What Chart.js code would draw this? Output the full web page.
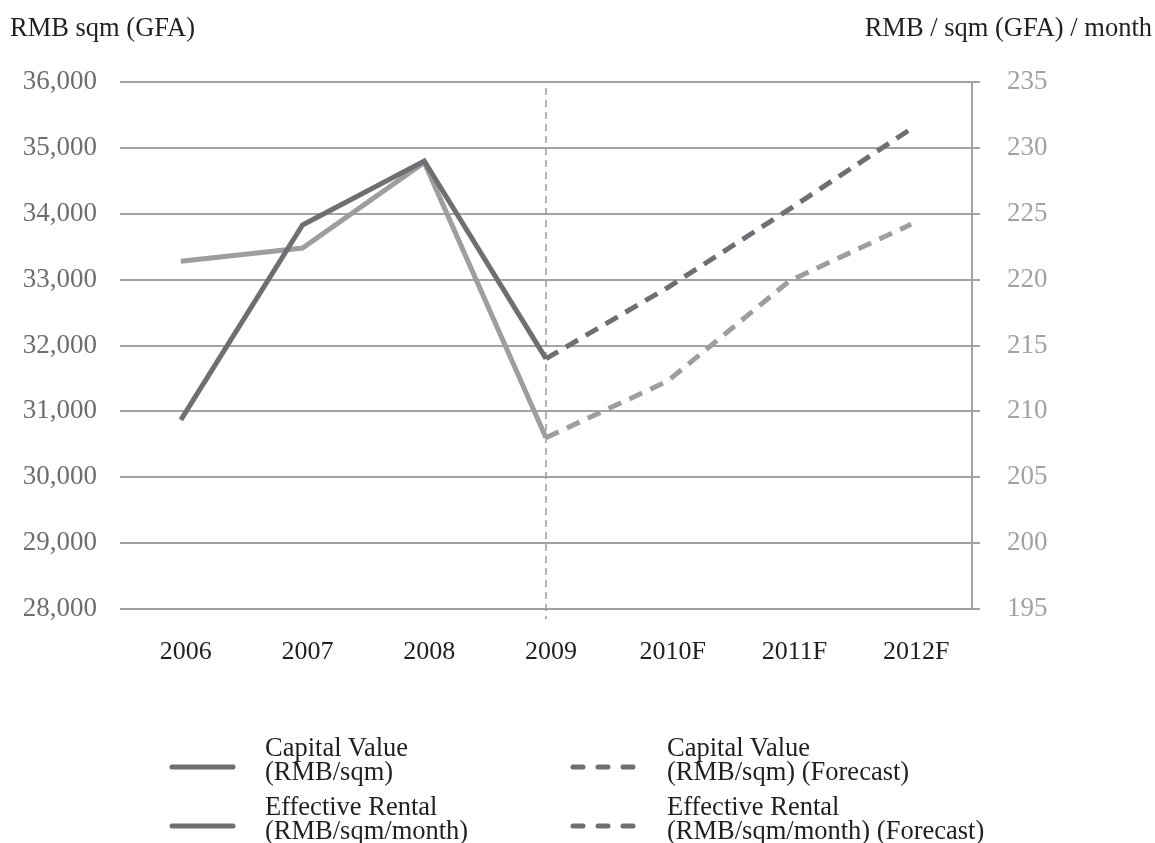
<!DOCTYPE html>
<html>
<head>
<meta charset="utf-8">
<script src="https://cdn.jsdelivr.net/npm/chart.js@4.4.1/dist/chart.umd.min.js"></script>
<style>
  body { margin: 0; background: #fff; }
  #wrap { position: relative; width: 1155px; height: 843px; overflow: hidden; }
  canvas { position: absolute; left: 0; top: 0; }
  .txt { position: absolute; font-family: "Liberation Serif", "Times New Roman", serif; font-size: 26.5px; line-height: 26px; color: #231f20; white-space: nowrap; }
  .leg .txt { font-size: 26.5px; line-height: 24px; }
  .leg svg { position: absolute; }
</style>
</head>
<body>
<div id="wrap">
  <canvas id="chart" width="1155" height="843"></canvas>
  <div class="txt" style="left:10px; top:14px;">RMB sqm (GFA)</div>
  <div class="txt" style="right:3px; top:14px;">RMB / sqm (GFA) / month</div>

  <div class="leg">
    <svg style="left:166px; top:759px;" width="75" height="16"><line x1="6" y1="8" x2="67" y2="8" stroke="#6e6f72" stroke-width="5" stroke-linecap="round"/></svg>
    <div class="txt" style="left:265px; top:735px;">Capital Value<br>(RMB/sqm)</div>
    <svg style="left:566px; top:759px;" width="80" height="16"><line x1="7" y1="8" x2="71" y2="8" stroke="#6e6f72" stroke-width="5" stroke-linecap="round" stroke-dasharray="10 15"/></svg>
    <div class="txt" style="left:667px; top:735px;">Capital Value<br>(RMB/sqm) (Forecast)</div>

    <svg style="left:166px; top:818px;" width="75" height="16"><line x1="6" y1="8" x2="67" y2="8" stroke="#6e6f72" stroke-width="5" stroke-linecap="round"/></svg>
    <div class="txt" style="left:265px; top:794px;">Effective Rental<br>(RMB/sqm/month)</div>
    <svg style="left:566px; top:818px;" width="80" height="16"><line x1="7" y1="8" x2="71" y2="8" stroke="#6e6f72" stroke-width="5" stroke-linecap="round" stroke-dasharray="10 15"/></svg>
    <div class="txt" style="left:667px; top:794px;">Effective Rental<br>(RMB/sqm/month) (Forecast)</div>
  </div>
</div>

<script>
const years = ["2006", "2007", "2008", "2009", "2010F", "2011F", "2012F"];

// RMB per sqm (left axis)
const capitalValue = [30870, 33830, 34800, 31800, null, null, null];
const capitalValueForecast = [null, null, null, 31800, 32880, 34070, 35290];

// RMB per sqm per month (right axis)
const effectiveRental = [221.4, 222.4, 228.9, 208.0, null, null, null];
const effectiveRentalForecast = [null, null, null, 208.0, 212.3, 219.9, 224.2];

const leftTicks = { min: 28000, max: 36000, step: 1000 };
const rightTicks = { min: 195, max: 235, step: 5 };

const dark = "#6e6f72";
const light = "#9d9ea0";
const gridGrey = "#a3a3a6";
const serif = "'Liberation Serif', 'Times New Roman', serif";

// dashed line marking where the forecast starts
const forecastMarker = {
  id: "forecastMarker",
  beforeDatasetsDraw(chart) {
    const ctx = chart.ctx;
    const x = chart.scales.x.getPixelForValue(3);
    const area = chart.chartArea;
    ctx.save();
    ctx.strokeStyle = "#9a9a9d";
    ctx.lineWidth = 1.5;
    ctx.setLineDash([7, 5]);
    ctx.beginPath();
    ctx.moveTo(x, area.top + 6);
    ctx.lineTo(x, area.bottom + 10);
    ctx.stroke();
    ctx.restore();
  }
};

const data = {
  labels: years,
  datasets: [
    {
      label: "Capital Value (RMB/sqm)",
      data: capitalValue,
      yAxisID: "y",
      borderColor: dark,
      borderWidth: 5
    },
    {
      label: "Capital Value (RMB/sqm) (Forecast)",
      data: capitalValueForecast,
      yAxisID: "y",
      borderColor: dark,
      borderWidth: 5,
      borderDash: [14, 9]
    },
    {
      label: "Effective Rental (RMB/sqm/month)",
      data: effectiveRental,
      yAxisID: "y1",
      borderColor: light,
      borderWidth: 5
    },
    {
      label: "Effective Rental (RMB/sqm/month) (Forecast)",
      data: effectiveRentalForecast,
      yAxisID: "y1",
      borderColor: light,
      borderWidth: 5,
      borderDash: [14, 9]
    }
  ]
};

const config = {
  type: "line",
  data: data,
  options: {
    responsive: false,
    animation: false,
    layout: { padding: { top: 82, bottom: 0, left: 0, right: 0 } },
    elements: {
      point: { radius: 0 },
      line: { tension: 0, borderJoinStyle: "miter", borderCapStyle: "butt", spanGaps: false }
    },
    plugins: {
      legend: { display: false },
      tooltip: { enabled: false }
    },
    scales: {
      x: {
        offset: true,
        grid: { display: false, drawTicks: false },
        border: { display: false },
        ticks: {
          color: "#231f20",
          font: { family: serif, size: 26 },
          padding: 28,
          labelOffset: 5,
          maxRotation: 0
        },
        afterFit(scale) { scale.height = 234; }
      },
      y: {
        position: "left",
        min: leftTicks.min,
        max: leftTicks.max,
        grid: { color: gridGrey, lineWidth: 2, drawTicks: false },
        border: { display: false },
        ticks: {
          stepSize: leftTicks.step,
          color: "#6d6e71",
          font: { family: serif, size: 27 },
          padding: 23,
          callback: (v) => v.toLocaleString("en-US")
        },
        afterFit(scale) { scale.width = 120; }
      },
      y1: {
        position: "right",
        min: rightTicks.min,
        max: rightTicks.max,
        grid: { drawOnChartArea: false, drawTicks: true, tickLength: 8, color: gridGrey, lineWidth: 2 },
        border: { display: true, color: gridGrey, width: 2 },
        ticks: {
          stepSize: rightTicks.step,
          color: "#a2a2a5",
          font: { family: serif, size: 27 },
          padding: 27
        },
        afterFit(scale) { scale.width = 183; }
      }
    }
  },
  plugins: [forecastMarker]
};

const myChart = new Chart(document.getElementById("chart"), config);
</script>
</body>
</html>
